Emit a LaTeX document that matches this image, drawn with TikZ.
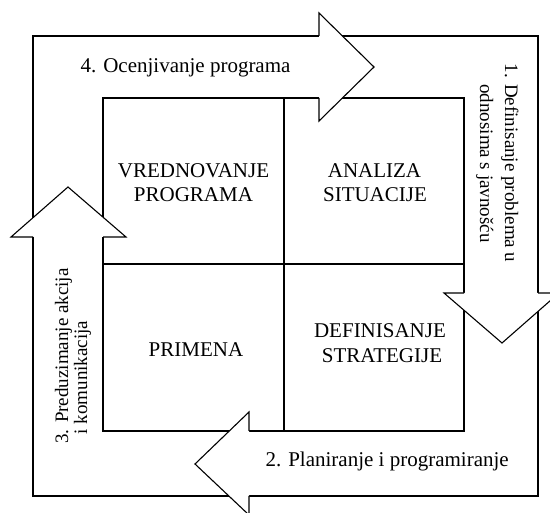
\documentclass[tikz,border=0pt]{standalone}
\usepackage{fontspec}
\setmainfont{Liberation Serif}
\begin{document}
\begin{tikzpicture}[x=1pt,y=-1pt, line width=1.1pt,
  head/.style={draw=black, fill=white, line width=1.1pt, line join=miter},
  lbl/.style={font=\fontsize{21}{25}\selectfont, inner sep=0pt, anchor=base},
  vlbl/.style={font=\fontsize{19}{23}\selectfont, inner sep=0pt, anchor=base}]
\useasboundingbox (0,0) rectangle (550,513);
\fill[white] (0,0) rectangle (550,513);
\clip (0,0) rectangle (550,513);
% outer frame and grid
\coordinate (FTL) at (33,36);
\coordinate (FBR) at (538,496);
\coordinate (GTL) at (103,98);
\coordinate (GBR) at (464,431);
\coordinate (GMT) at (284,98);
\coordinate (GMB) at (284,431);
\coordinate (GML) at (103,264);
\coordinate (GMR) at (464,264);
\draw (FTL) rectangle (FBR);
\draw (GTL) rectangle (GBR);
\draw (GMT) -- (GMB);
\draw (GML) -- (GMR);
% arrow heads
\draw[head] (319,36) -- (319,13) -- (374,67) -- (319,121) -- (319,98);
\draw[head] (538,293) -- (559,293) -- (502,343) -- (444,293) -- (464,293);
\draw[head] (249,496) -- (249,515) -- (195,464) -- (249,412) -- (249,431);
\draw[head] (103,237) -- (126,237) -- (68,187) -- (11,237) -- (33,237);
% labels
\node[lbl, anchor=base west] (t4) at (80,73) {4. Ocenjivanje programa};
\node[lbl, anchor=base west] (t2) at (265,467) {2. Planiranje i programiranje};
\node[lbl] (v1) at (193.5,178) {VREDNOVANJE};
\node[lbl] (v2) at (193.5,202) {PROGRAMA};
\node[lbl] (a1) at (374.5,178) {ANALIZA};
\node[lbl] (a2) at (375,202) {SITUACIJE};
\node[lbl] (p1) at (196,357) {PRIMENA};
\node[lbl] (d1) at (380,338) {DEFINISANJE};
\node[lbl] (d2) at (382,363) {STRATEGIJE};
\node[vlbl, rotate=-90] (r1) at (505,163) {1. Definisanje problema u};
\node[vlbl, rotate=-90] (r2) at (480,163.5) {odnosima s javnošću};
\node[vlbl, rotate=90] (l1) at (68,356) {3. Preduzimanje akcija};
\node[vlbl, rotate=90] (l2) at (87,377.5) {i komunikacija};
\end{tikzpicture}
\end{document}
